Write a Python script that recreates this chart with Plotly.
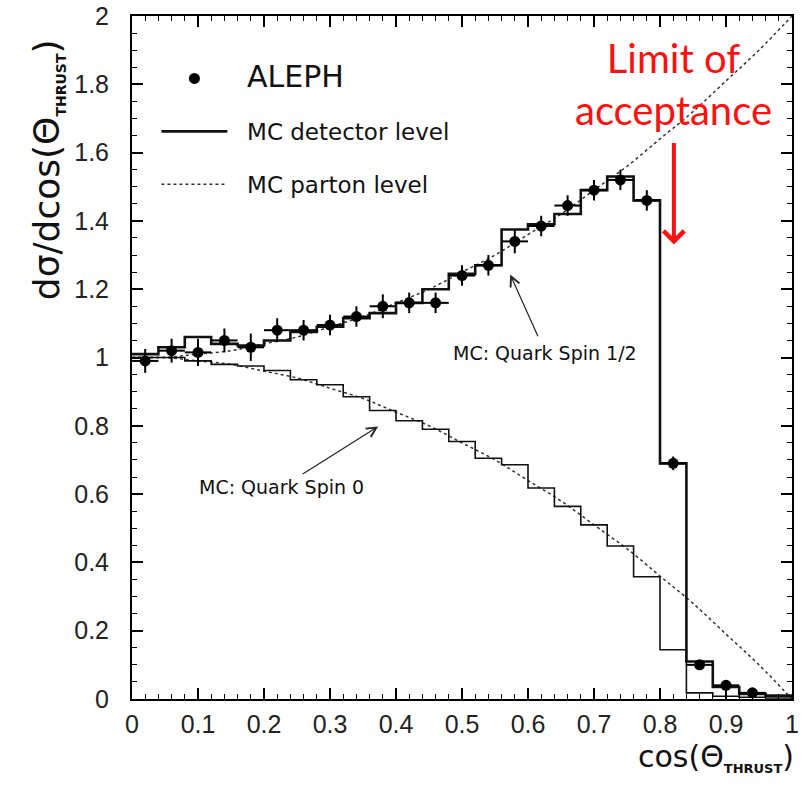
import plotly.graph_objects as go

# ---- data ----
bin_edges = [0.00, 0.04, 0.08, 0.12, 0.16, 0.20, 0.24, 0.28, 0.32, 0.36, 0.40, 0.44, 0.48,
             0.52, 0.56, 0.60, 0.64, 0.68, 0.72, 0.76, 0.80, 0.84, 0.88, 0.92, 0.96, 1.00]

aleph_x = [0.02, 0.06, 0.10, 0.14, 0.18, 0.22, 0.26, 0.30, 0.34, 0.38, 0.42, 0.46,
           0.50, 0.54, 0.58, 0.62, 0.66, 0.70, 0.74, 0.78, 0.82, 0.86, 0.90, 0.94]
aleph_y = [0.99, 1.02, 1.015, 1.05, 1.03, 1.08, 1.08, 1.095, 1.12, 1.15, 1.16, 1.16,
           1.24, 1.27, 1.34, 1.385, 1.445, 1.49, 1.52, 1.46, 0.69, 0.10, 0.04, 0.018]
aleph_yerr = [0.035, 0.035, 0.04, 0.035, 0.04, 0.035, 0.03, 0.03, 0.03, 0.035, 0.03, 0.03,
              0.03, 0.03, 0.035, 0.03, 0.03, 0.03, 0.03, 0.03, 0.02, 0.012, 0.008, 0.006]
aleph_xerr = 0.02

spin_half_detector = [1.01, 1.03, 1.06, 1.04, 1.035, 1.05, 1.075, 1.09, 1.115, 1.13, 1.16, 1.20,
                      1.245, 1.27, 1.375, 1.39, 1.42, 1.49, 1.53, 1.46, 0.69, 0.11, 0.035, 0.015, 0.01]
spin_zero_detector = [1.00, 1.00, 0.99, 0.98, 0.975, 0.962, 0.935, 0.92, 0.885, 0.845, 0.815, 0.79,
                      0.754, 0.705, 0.686, 0.618, 0.564, 0.51, 0.448, 0.358, 0.144, 0.018, 0.008,
                      0.005, 0.003]

parton_x = [0.00, 0.05, 0.10, 0.15, 0.20, 0.25, 0.30, 0.35, 0.40, 0.45, 0.50,
            0.55, 0.60, 0.65, 0.70, 0.75, 0.80, 0.85, 0.90, 0.95, 1.00]
spin_half_parton = [1.00, 1.00, 1.01, 1.02, 1.04, 1.06, 1.09, 1.12, 1.16, 1.20, 1.25,
                    1.30, 1.36, 1.42, 1.49, 1.56, 1.64, 1.72, 1.81, 1.90, 2.00]
spin_zero_parton = [1.00, 1.00, 0.99, 0.98, 0.96, 0.94, 0.91, 0.88, 0.84, 0.80, 0.75,
                    0.70, 0.64, 0.58, 0.51, 0.44, 0.36, 0.28, 0.19, 0.10, 0.00]

x_tickvals = [0, 0.1, 0.2, 0.3, 0.4, 0.5, 0.6, 0.7, 0.8, 0.9, 1]
x_ticktext = ["0", "0.1", "0.2", "0.3", "0.4", "0.5", "0.6", "0.7", "0.8", "0.9", "1"]
y_tickvals = [0, 0.2, 0.4, 0.6, 0.8, 1.0, 1.2, 1.4, 1.6, 1.8, 2.0]
y_ticktext = ["0", "0.2", "0.4", "0.6", "0.8", "1", "1.2", "1.4", "1.6", "1.8", "2"]

TXT = "DejaVu Sans"
TICK = "Liberation Sans"
NB = "\u00a0\u00a0"


def steps(values):
    # step outline over the bin edges (last value repeated to close the final bin)
    return bin_edges, list(values) + [values[-1]]


fig = go.Figure()

# parton-level curves (dotted)
fig.add_trace(go.Scatter(x=parton_x, y=spin_zero_parton, mode="lines", line_shape="spline",
                         line=dict(color="#333", width=1.5, dash="dot"),
                         showlegend=False, hoverinfo="skip"))
fig.add_trace(go.Scatter(x=parton_x, y=spin_half_parton, mode="lines", line_shape="spline",
                         line=dict(color="#333", width=1.5, dash="dot"),
                         name=NB + "MC parton level", legendgroup="c", legendrank=3))

# detector-level histograms
sx, sy = steps(spin_zero_detector)
fig.add_trace(go.Scatter(x=sx, y=sy, mode="lines", line_shape="hv",
                         line=dict(color="#111", width=1.6),
                         showlegend=False, hoverinfo="skip"))
sx, sy = steps(spin_half_detector)
fig.add_trace(go.Scatter(x=sx, y=sy, mode="lines", line_shape="hv",
                         line=dict(color="#111", width=2.6),
                         name=NB + "MC detector level", legendgroup="b", legendrank=2))

# ALEPH data
fig.add_trace(go.Scatter(x=aleph_x, y=aleph_y, mode="markers",
                         marker=dict(color="black", size=11),
                         error_x=dict(type="constant", value=aleph_xerr, color="black",
                                      thickness=2, width=0),
                         error_y=dict(type="data", array=aleph_yerr, color="black",
                                      thickness=2, width=0),
                         name=NB + "<span style='font-size:30px'>ALEPH</span>",
                         legendgroup="a", legendrank=1))

axis_common = dict(showline=True, linecolor="black", linewidth=2, mirror="allticks",
                   ticks="inside", ticklen=11, tickwidth=1.5, tickcolor="black",
                   showgrid=False, zeroline=False, automargin=False,
                   tickfont=dict(family=TICK, size=25, color="#222"))

fig.update_xaxes(range=[0, 1], tickvals=x_tickvals, ticktext=x_ticktext,
                 minor=dict(dtick=0.02, ticks="inside", ticklen=5, tickcolor="black",
                            tickwidth=1.2, showgrid=False),
                 ticklabelstandoff=2, **axis_common)
fig.update_yaxes(range=[0, 2], tickvals=y_tickvals, ticktext=y_ticktext,
                 minor=dict(dtick=0.05, ticks="inside", ticklen=5, tickcolor="black",
                            tickwidth=1.2, showgrid=False),
                 ticklabelstandoff=16, **axis_common)

fig.update_layout(
    width=803, height=790,
    margin=dict(l=132, r=11, t=16, b=91),
    paper_bgcolor="white", plot_bgcolor="white",
    font=dict(family=TXT, color="black"),
    legend=dict(x=0.037, y=0.94, xanchor="left", yanchor="top",
                font=dict(family=TXT, size=23, color="#111"),
                bgcolor="rgba(0,0,0,0)", tracegroupgap=20, itemwidth=66,
                traceorder="grouped"),
    annotations=[
        dict(text="dσ/dcos(Θ<sub><span style='font-size:14px'><b>THRUST</b></span></sub>)",
             xref="paper", yref="paper", x=-0.128, y=0.775, xanchor="center", yanchor="middle",
             textangle=-90, showarrow=False, font=dict(family=TXT, size=36, color="#111")),
        dict(text="cos(Θ<sub><span style='font-size:13px'><b>THRUST</b></span></sub>)",
             xref="paper", yref="paper", x=1.006, y=-0.085, xanchor="right", yanchor="middle",
             showarrow=False, font=dict(family=TXT, size=30, color="#111")),
        dict(text="MC: Quark Spin 1/2", x=0.573, y=1.243, ax=35, ay=78,
             showarrow=True, arrowhead=5, arrowsize=1.6, arrowwidth=1.2, arrowcolor="#222",
             startstandoff=4, font=dict(family=TXT, size=19, color="#111")),
        dict(text="MC: Quark Spin 0", x=0.373, y=0.798, ax=-97, ay=61,
             showarrow=True, arrowhead=5, arrowsize=1.6, arrowwidth=1.2, arrowcolor="#222",
             startstandoff=2, font=dict(family=TXT, size=19, color="#111")),
        dict(text="Limit of<br>acceptance", xref="x", yref="paper", x=0.821, y=0.977,
             yanchor="top", showarrow=False,
             font=dict(family="Lato", size=40, color="#ff1010")),
        dict(text="", x=0.821, y=1.331, ax=0, ay=-103, showarrow=True,
             arrowhead=4, arrowsize=1, arrowwidth=4, arrowcolor="#ff1010"),
    ],
)

fig.write_html("out.html", config={"displayModeBar": False},
               post_script="document.body.style.margin='0';")
